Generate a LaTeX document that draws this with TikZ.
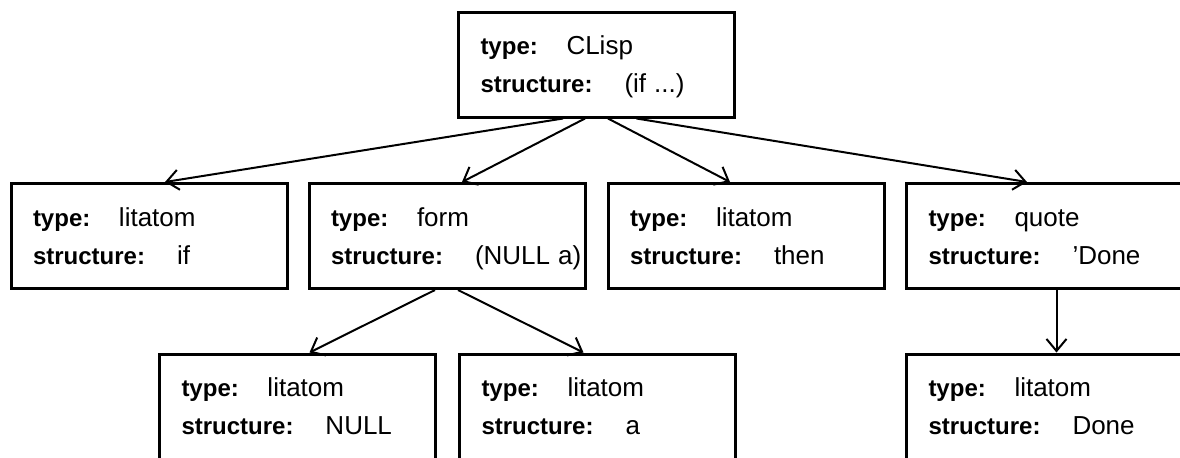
\documentclass[tikz,border=0pt]{standalone}
\usepackage{fontspec}
\setmainfont{Liberation Sans}
\usetikzlibrary{arrows.meta}

\newcommand{\campi}[2]{\rule{0pt}{12pt}\makebox[43pt][l]{\textbf{type:}}{\fontsize{13}{19}\selectfont #1}\\
  \makebox[72pt][l]{\textbf{structure:}}{\fontsize{13}{19}\selectfont #2}\rule[-2.6pt]{0pt}{2.6pt}}

\tikzset{
  nodo/.style={draw, line width=1.5pt, minimum width=138pt, minimum height=52.5pt,
    inner xsep=11pt, inner ysep=0pt, text width=116pt, align=left,
    font=\fontsize{12}{19}\selectfont},
  freccia/.style={line width=1pt, -{Straight Barb[length=6pt,width=10pt]}}
}

\begin{document}
\begin{tikzpicture}[x=0.5pt, y=-0.5pt]
        \useasboundingbox (0,0) rectangle (1180,457);
        \clip (0,0) rectangle (1180,457);

        % Nodi
        \node[nodo] (clisp) at (596.5,64.5) {\campi{CLisp}{(if~...)}};
        \node[nodo] (ifatom) at (149,236) {\campi{litatom}{if}};
        \node[nodo] (nullform) at (447,236) {\campi{form}{(NULL~a)}};
        \node[nodo] (thenatom) at (746,236) {\campi{litatom}{then}};
        \node[nodo] (quote) at (1044.5,236) {\campi{quote}{'Done}};
        \node[nodo] (nullatom) at (297.5,406.5) {\campi{litatom}{NULL}};
        \node[nodo] (aatom) at (597.5,406.5) {\campi{litatom}{a}};
        \node[nodo] (doneatom) at (1044.5,406.5) {\campi{litatom}{Done}};

        % Frecce dal nodo radice
        \draw[freccia] ([xshift=-16.75pt]clisp.south) -- ([xshift=8pt]ifatom.north);
        \draw[freccia] ([xshift=-5.75pt]clisp.south) -- ([xshift=7.5pt]nullform.north);
        \draw[freccia] ([xshift=5.75pt]clisp.south) -- ([xshift=-8pt]thenatom.north);
        \draw[freccia] ([xshift=20pt]clisp.south) -- ([xshift=-8.75pt]quote.north);

        % Frecce del secondo livello
        \draw[freccia] ([xshift=-6pt]nullform.south) -- ([xshift=6pt]nullatom.north);
        \draw[freccia] ([xshift=5.5pt]nullform.south) -- ([xshift=-7pt]aatom.north);
        \draw[freccia] ([xshift=6pt]quote.south) -- ([xshift=6pt]doneatom.north);
    \end{tikzpicture}
\end{document}
